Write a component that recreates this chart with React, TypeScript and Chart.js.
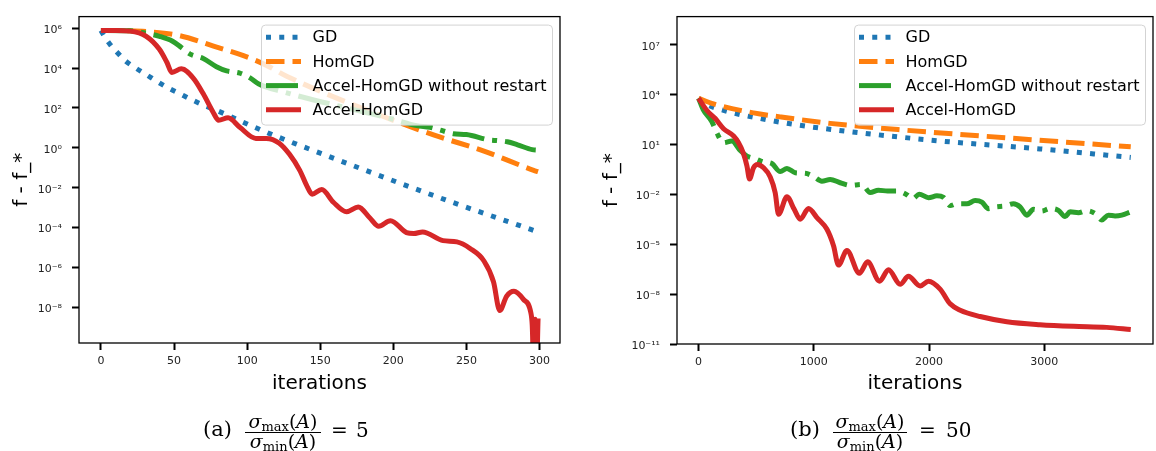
import React, { useEffect, useRef } from 'react';
import { Chart, registerables } from 'chart.js';
Chart.register(...registerables);

const FONT = "'DejaVu Sans', sans-serif";
const SERIF = "'DejaVu Serif', 'Liberation Serif', serif";

const labels = ['GD', 'HomGD', 'Accel-HomGD without restart', 'Accel-HomGD'];
const colors = ['#1f77b4', '#ff7f0e', '#2ca02c', '#d62728'];

// ---------- Panel (a): sigma ratio 5 ----------
const xTicksA = [0, 50, 100, 150, 200, 250, 300];
const yTicksA = [1e6, 1e4, 1e2, 1, 1e-2, 1e-4, 1e-6, 1e-8];

const gdIterA = [0, 3, 6, 11, 17, 24, 31, 38, 46, 54, 62, 70, 78, 87, 102, 118, 134, 239, 294, 299];
const gdValA = [7.6e5, 3.2e5, 1.6e5, 6.2e4, 2.2e4, 9.8e3, 4.7e3, 2.2e3, 1.0e3, 5.1e2, 2.6e2, 1.4e2, 81, 42, 13.5, 4.3, 1.5, 2.0e-3, 8.1e-5, 6.0e-5];

const homIterA = [0, 20, 31, 54, 77, 97, 113, 127, 198, 228, 262, 296, 299];
const homValA = [7.6e5, 7.4e5, 6.8e5, 4.2e5, 1.26e5, 4.3e4, 1.4e4, 3.9e3, 27, 4.3, 0.68, 0.074, 0.063];

const accNoIterA = [0, 20, 31, 40, 49, 55, 61, 70, 79, 86, 95, 102, 108, 125, 200, 216, 225, 233, 241, 250, 266, 271, 278, 285, 295, 299];
const accNoValA = [7.6e5, 7.4e5, 5.6e5, 3.9e5, 2.2e5, 1.07e5, 5.0e4, 3.0e4, 1.17e4, 7.2e3, 5.6e3, 3.2e3, 1.6e3, 630, 27, 12.9, 10.7, 7.4, 5.1, 4.6, 2.45, 2.3, 2.0, 1.41, 0.81, 0.76];

const accIterA = [0, 10, 20, 31, 40, 45, 48.5, 55, 63, 70, 77, 80.5, 87, 95, 106, 113, 122, 129, 136, 141, 144.5, 151, 159, 168, 176, 184, 190, 198, 209, 214, 220, 234, 243.5, 252.5, 262, 268.5, 272.8, 277.5, 282.5, 289, 294, 295, 296, 297, 298, 299];
const accValA = [7.6e5, 7.6e5, 7.1e5, 3.9e5, 8.7e4, 2.0e4, 6.0e3, 9.1e3, 3.2e3, 5.1e2, 56, 24, 32, 10.7, 2.95, 2.95, 1.7, 0.47, 0.074, 0.0117, 4.7e-3, 8.1e-3, 1.86e-3, 6.2e-4, 1.07e-3, 3.0e-4, 1.17e-4, 2.2e-4, 5.6e-5, 5.0e-5, 6.0e-5, 2.2e-5, 1.9e-5, 8.9e-6, 2.1e-6, 1.9e-7, 6.9e-9, 3.6e-8, 6.3e-8, 2.5e-8, 5.6e-9, 1.26e-9, 1e-11, 2.5e-9, 1e-11, 2.8e-9];

// ---------- Panel (b): sigma ratio 50 ----------
const xTicksB = [0, 1000, 2000, 3000];
const yTicksB = [1e7, 1e4, 10, 1e-2, 1e-5, 1e-8, 1e-11];

const gdIterB = [0, 60, 217, 535, 853, 1287, 2096, 2963, 3750];
const gdValB = [6.0e3, 2.8e3, 1.12e3, 363, 151, 62, 16.2, 5.4, 1.66];

const homIterB = [0, 130, 477, 709, 1142, 1807, 2675, 3750];
const homValB = [6.0e3, 2.75e3, 794, 457, 186, 71, 25, 7.2];

const accNoIterB = [0, 40, 116, 159, 217, 289, 362, 420, 492, 564, 636, 709, 767, 839, 925, 997, 1070, 1142, 1229, 1316, 1417, 1489, 1560, 1640, 1721, 1800, 1860, 1915, 1995, 2068, 2125, 2183, 2241, 2328, 2400, 2458, 2515, 2573, 2660, 2732, 2790, 2848, 2906, 2978, 3050, 3122, 3180, 3224, 3296, 3368, 3441, 3499, 3556, 3614, 3672, 3750];
const accNoValB = [6.0e3, 1.26e3, 234, 49, 12.9, 16.2, 4.3, 2.0, 1.38, 0.89, 0.71, 0.234, 0.36, 0.2, 0.186, 0.12, 0.062, 0.079, 0.05, 0.035, 0.039, 0.0129, 0.0178, 0.0158, 0.0158, 0.0102, 5.6e-3, 0.0102, 6.3e-3, 8.1e-3, 6.6e-3, 2.1e-3, 2.7e-3, 2.7e-3, 4.2e-3, 3.4e-3, 1.38e-3, 1.74e-3, 2.0e-3, 2.7e-3, 1.74e-3, 5.6e-4, 1.26e-3, 1.0e-3, 1.41e-3, 1.1e-3, 4.6e-4, 8.9e-4, 7.9e-4, 1.05e-3, 7.1e-4, 2.9e-4, 5.6e-4, 5.0e-4, 5.6e-4, 8.9e-4];

const accIterB = [0, 73, 145, 217, 304, 347, 390, 420, 442, 477, 510, 564, 622, 665, 694, 767, 830, 882, 954, 1027, 1114, 1171, 1214, 1287, 1395, 1467, 1570, 1648, 1749, 1821, 1923, 1995, 2096, 2183, 2270, 2443, 2675, 2963, 3252, 3541, 3750];
const accValB = [6.0e3, 1.1e3, 363, 89, 32, 12.6, 2.8, 0.5, 0.085, 0.4, 0.63, 0.4, 0.11, 0.0126, 6.3e-4, 7.1e-3, 1.26e-3, 3.2e-4, 1.4e-3, 4.0e-4, 7.9e-5, 8.1e-6, 5.6e-7, 4.2e-6, 1.8e-7, 8.7e-7, 6.0e-8, 2.9e-7, 3.9e-8, 1.17e-7, 3.1e-8, 6.0e-8, 2.0e-8, 2.6e-9, 1.07e-9, 4.5e-10, 2.2e-10, 1.45e-10, 1.15e-10, 1.0e-10, 7.4e-11];

// ---------- styling ----------
const LW = 5;
const dashes: number[][] = [[5, 8.25], [18.5, 8], [32, 8, 5, 8], []];

const SUP: Record<string, string> = { '0': '⁰', '1': '¹', '2': '²', '3': '³', '4': '⁴', '5': '⁵', '6': '⁶', '7': '⁷', '8': '⁸', '9': '⁹', '-': '⁻' };
const pow10Label = (v: number) => '10' + String(Math.round(Math.log10(v))).split('').map((c) => SUP[c] || c).join('');

const CW = 578;
const CH = 400;

type PanelCfg = {
  area: { left: number; right: number; top: number; bottom: number };
  xMin: number; xMax: number; yMin: number; yMax: number;
  xTicks: number[]; yTicks: number[];
  series: { iter: number[]; val: number[] }[];
  yTitleX: number;
};

const panelA: PanelCfg = {
  area: { left: 79, right: 560, top: 3, bottom: 343 },
  xMin: -15, xMax: 314, yMin: 1.62e-10, yMax: 3.8e6,
  xTicks: xTicksA, yTicks: yTicksA,
  series: [
    { iter: gdIterA, val: gdValA },
    { iter: homIterA, val: homValA },
    { iter: accNoIterA, val: accNoValA },
    { iter: accIterA, val: accValA },
  ],
  yTitleX: 27,
};

const panelB: PanelCfg = {
  area: { left: 99, right: 575, top: 6, bottom: 344 },
  xMin: -187, xMax: 3943, yMin: 1e-11, yMax: 4.9e8,
  xTicks: xTicksB, yTicks: yTicksB,
  series: [
    { iter: gdIterB, val: gdValB },
    { iter: homIterB, val: homValB },
    { iter: accNoIterB, val: accNoValB },
    { iter: accIterB, val: accValB },
  ],
  yTitleX: 39,
};

function makeDecorPlugin(cfg: PanelCfg) {
  return {
    id: 'decor',
    afterDatasetsDraw(chart: any) {
      const { ctx, chartArea: a } = chart;
      ctx.save();
      ctx.strokeStyle = '#000';
      ctx.lineWidth = 1.3;
      ctx.strokeRect(a.left, a.top, a.right - a.left, a.bottom - a.top);
      ctx.restore();
    },
    afterDraw(chart: any) {
      const { ctx, chartArea: a } = chart;
      ctx.save();
      ctx.fillStyle = '#000';
      ctx.font = `20px ${FONT}`;
      ctx.textAlign = 'center';
      ctx.textBaseline = 'alphabetic';
      ctx.fillText('iterations', (a.left + a.right) / 2, 389);
      ctx.save();
      ctx.translate(cfg.yTitleX, (a.top + a.bottom) / 2);
      ctx.rotate(-Math.PI / 2);
      ctx.fillText('f - f_*', 0, 0);
      ctx.restore();

      const bw = 291;
      const bh = 100;
      const bx = a.right - 8 - bw;
      const by = a.top + 8;
      ctx.beginPath();
      if (ctx.roundRect) ctx.roundRect(bx + 0.5, by + 0.5, bw, bh, 4);
      else ctx.rect(bx + 0.5, by + 0.5, bw, bh);
      ctx.fillStyle = 'rgba(255,255,255,0.8)';
      ctx.fill();
      ctx.strokeStyle = '#d3d3d3';
      ctx.lineWidth = 1;
      ctx.stroke();
      ctx.font = `16px ${FONT}`;
      ctx.textAlign = 'left';
      ctx.textBaseline = 'middle';
      for (let i = 0; i < labels.length; i++) {
        const y = by + 12.6 + i * 24.2;
        ctx.beginPath();
        ctx.setLineDash(dashes[i]);
        ctx.lineDashOffset = 0;
        ctx.strokeStyle = colors[i];
        ctx.lineWidth = LW;
        ctx.lineCap = 'butt';
        ctx.moveTo(bx + 5, y);
        ctx.lineTo(bx + 40, y);
        ctx.stroke();
        ctx.setLineDash([]);
        ctx.fillStyle = '#000';
        ctx.fillText(labels[i], bx + 51.5, y + 1);
      }
      ctx.restore();
    },
  };
}

function Panel({ cfg, left }: { cfg: PanelCfg; left: number }) {
  const ref = useRef<HTMLCanvasElement | null>(null);
  useEffect(() => {
    if (!ref.current) return;
    const a = cfg.area;
    const tickFont = { family: FONT, size: 11 };
    const chart = new Chart(ref.current, {
      type: 'line',
      data: {
        datasets: cfg.series.map((s, i) => ({
          label: labels[i],
          data: s.iter.map((x, j) => ({ x, y: s.val[j] })),
          borderColor: colors[i],
          backgroundColor: colors[i],
          borderWidth: LW,
          borderDash: dashes[i],
          borderCapStyle: 'butt',
          borderJoinStyle: 'round',
          pointRadius: 0,
          fill: false,
          cubicInterpolationMode: 'monotone',
          order: 4 - i,
        })),
      },
      options: {
        animation: false,
        responsive: false,
        maintainAspectRatio: false,
        events: [],
        layout: { padding: { left: 0, top: a.top, right: CW - a.right, bottom: 0 } },
        plugins: { legend: { display: false }, tooltip: { enabled: false } },
        scales: {
          x: {
            type: 'linear',
            min: cfg.xMin,
            max: cfg.xMax,
            afterBuildTicks: (s: any) => { s.ticks = cfg.xTicks.map((v) => ({ value: v })); },
            afterFit: (s: any) => { s.height = CH - a.bottom; },
            grid: { display: true, drawOnChartArea: false, drawTicks: true, tickLength: 7, tickWidth: 2, tickColor: '#000' },
            border: { display: false },
            ticks: { font: tickFont, color: '#222', padding: 5, maxRotation: 0, autoSkip: false, callback: (v: any) => String(v) },
          },
          y: {
            type: 'logarithmic',
            min: cfg.yMin,
            max: cfg.yMax,
            afterBuildTicks: (s: any) => { s.ticks = cfg.yTicks.map((v) => ({ value: v })); },
            afterFit: (s: any) => { s.width = a.left; },
            grid: { display: true, drawOnChartArea: false, drawTicks: true, tickLength: 7, tickWidth: 2, tickColor: '#000' },
            border: { display: false },
            ticks: { font: tickFont, color: '#222', padding: 10, autoSkip: false, labelOffset: 2, callback: (v: any) => pow10Label(Number(v)) },
          },
        },
      } as any,
      plugins: [makeDecorPlugin(cfg)],
    });
    return () => chart.destroy();
  }, [cfg]);
  return (
    <canvas
      ref={ref}
      width={CW}
      height={CH}
      style={{ position: 'absolute', left, top: 0, width: CW, height: CH }}
    />
  );
}

function Caption({ tag, tagX, fracX, fracW, eqX, numX, value }: { tag: string; tagX: number; fracX: number; fracW: number; eqX: number; numX: number; value: string }) {
  const cx = fracX + fracW / 2;
  const part = (sub: string, y: number) => (
    <text x={cx} y={y} textAnchor="middle" fontFamily={SERIF} fontSize={19} fill="#000">
      <tspan fontStyle="italic">σ</tspan>
      <tspan fontSize={13} dy={3}>{sub}</tspan>
      <tspan dy={-3}>(</tspan>
      <tspan fontStyle="italic">A</tspan>
      <tspan>)</tspan>
    </text>
  );
  return (
    <g>
      <text x={tagX} y={436} fontFamily={SERIF} fontSize={21} fill="#000">{tag}</text>
      {part('max', 428)}
      <line x1={fracX} x2={fracX + fracW} y1={432.5} y2={432.5} stroke="#000" strokeWidth={1} />
      {part('min', 448)}
      <text x={eqX} y={437} fontFamily={SERIF} fontSize={20} fill="#000">=</text>
      <text x={numX} y={437} fontFamily={SERIF} fontSize={20} fill="#000">{value}</text>
    </g>
  );
}

export default function App() {
  useEffect(() => {
    document.body.style.margin = '0';
  }, []);
  return (
    <div style={{ position: 'fixed', left: 0, top: 0, width: 1156, height: 451, background: '#fff', overflow: 'hidden' }}>
      <Panel cfg={panelA} left={0} />
      <Panel cfg={panelB} left={578} />
      <svg width={1156} height={451} style={{ position: 'absolute', left: 0, top: 0, pointerEvents: 'none' }}>
        <Caption tag="(a)" tagX={203} fracX={245} fracW={76} eqX={331} numX={356} value="5" />
        <Caption tag="(b)" tagX={790} fracX={833} fracW={74} eqX={919} numX={946} value="50" />
      </svg>
    </div>
  );
}
